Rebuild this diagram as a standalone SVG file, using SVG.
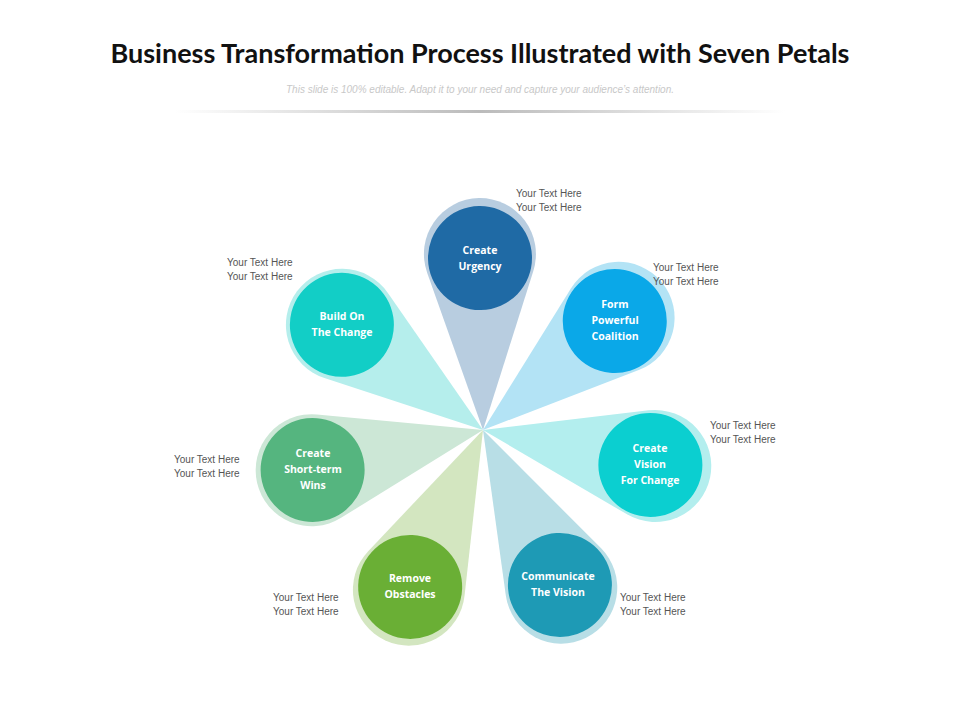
<svg xmlns="http://www.w3.org/2000/svg" width="960" height="720" viewBox="0 0 960 720">
<defs>
<linearGradient id="ln" x1="0" x2="1"><stop offset="0" stop-color="#fff"/><stop offset="0.5" stop-color="#bbb"/><stop offset="1" stop-color="#fff"/></linearGradient>
<path id="petal" d="M0,0 L-53.1,-158.2 A56,56 0 1,1 53.1,-158.2 Z"/>
</defs>
<style>
.t{font-family:"Lato","Open Sans",sans-serif;font-weight:bold;font-size:27px;fill:#111;text-anchor:middle}
.s{font-family:"Liberation Sans",Arial,sans-serif;font-style:italic;font-size:10px;fill:#c8c8c8;text-anchor:middle}
.c{font-family:"Open Sans","Lato",sans-serif;font-weight:bold;font-size:10.5px;fill:#fff;text-anchor:middle}
.y{font-family:"Liberation Sans",Arial,sans-serif;font-size:10px;fill:#555}
</style>
<rect width="960" height="720" fill="#fff"/>
<text class="t" x="480" y="63">Business Transformation Process Illustrated with Seven Petals</text>
<text class="s" x="480" y="93">This slide is 100% editable. Adapt it to your need and capture  your audience’s attention.</text>
<rect x="175" y="110" width="610" height="3" fill="url(#ln)"/>
<g id="petals">
<g id="n1" transform="translate(483,430) rotate(-1)"><use href="#petal" fill="#B8CDE0"/><circle cx="0" cy="-172" r="52" fill="#1F6AA5"/></g>
<g id="n2" transform="translate(483,430) rotate(50.4)"><use href="#petal" fill="#B3E3F5"/><circle cx="0" cy="-171" r="52" fill="#0AA8E8"/></g>
<g id="n3" transform="translate(483,430) rotate(101.8)"><use href="#petal" fill="#B3EEEE"/><circle cx="0" cy="-171" r="52" fill="#0BCFD0"/></g>
<g id="n4" transform="translate(483,430) rotate(153.6)"><use href="#petal" fill="#B8DEE6"/><circle cx="0" cy="-173" r="52" fill="#1E9AB5"/></g>
<g id="n5" transform="translate(483,430) rotate(204.9)"><use href="#petal" fill="#D3E6C0"/><circle cx="0" cy="-173" r="52" fill="#6AAF35"/></g>
<g id="n6" transform="translate(483,430) rotate(256.8)"><use href="#petal" fill="#CCE7D6"/><circle cx="0" cy="-175" r="52" fill="#55B57F"/></g>
<g id="n7" transform="translate(483,430) rotate(306.7)"><use href="#petal" fill="#B5EEEC"/><circle cx="0" cy="-176" r="52" fill="#12CEC6"/></g>
</g>
<g id="labels">
<text class="c" x="480" y="254">Create</text><text class="c" x="480" y="270">Urgency</text>
<text class="c" x="615" y="308">Form</text><text class="c" x="615" y="324">Powerful</text><text class="c" x="615" y="340">Coalition</text>
<text class="c" x="650" y="452">Create</text><text class="c" x="650" y="468">Vision</text><text class="c" x="650" y="484">For Change</text>
<text class="c" x="558" y="580">Communicate</text><text class="c" x="558" y="596">The Vision</text>
<text class="c" x="410" y="582">Remove</text><text class="c" x="410" y="598">Obstacles</text>
<text class="c" x="313" y="457">Create</text><text class="c" x="313" y="473">Short-term</text><text class="c" x="313" y="489">Wins</text>
<text class="c" x="342" y="320">Build On</text><text class="c" x="342" y="336">The Change</text>
</g>
<g id="side">
<text class="y" x="516" y="197">Your Text Here</text><text class="y" x="516" y="211">Your Text Here</text>
<text class="y" x="653" y="271">Your Text Here</text><text class="y" x="653" y="285">Your Text Here</text>
<text class="y" x="710" y="429">Your Text Here</text><text class="y" x="710" y="443">Your Text Here</text>
<text class="y" x="620" y="601">Your Text Here</text><text class="y" x="620" y="615">Your Text Here</text>
<text class="y" x="273" y="601">Your Text Here</text><text class="y" x="273" y="615">Your Text Here</text>
<text class="y" x="174" y="463">Your Text Here</text><text class="y" x="174" y="477">Your Text Here</text>
<text class="y" x="227" y="266">Your Text Here</text><text class="y" x="227" y="280">Your Text Here</text>
</g>
</svg>
